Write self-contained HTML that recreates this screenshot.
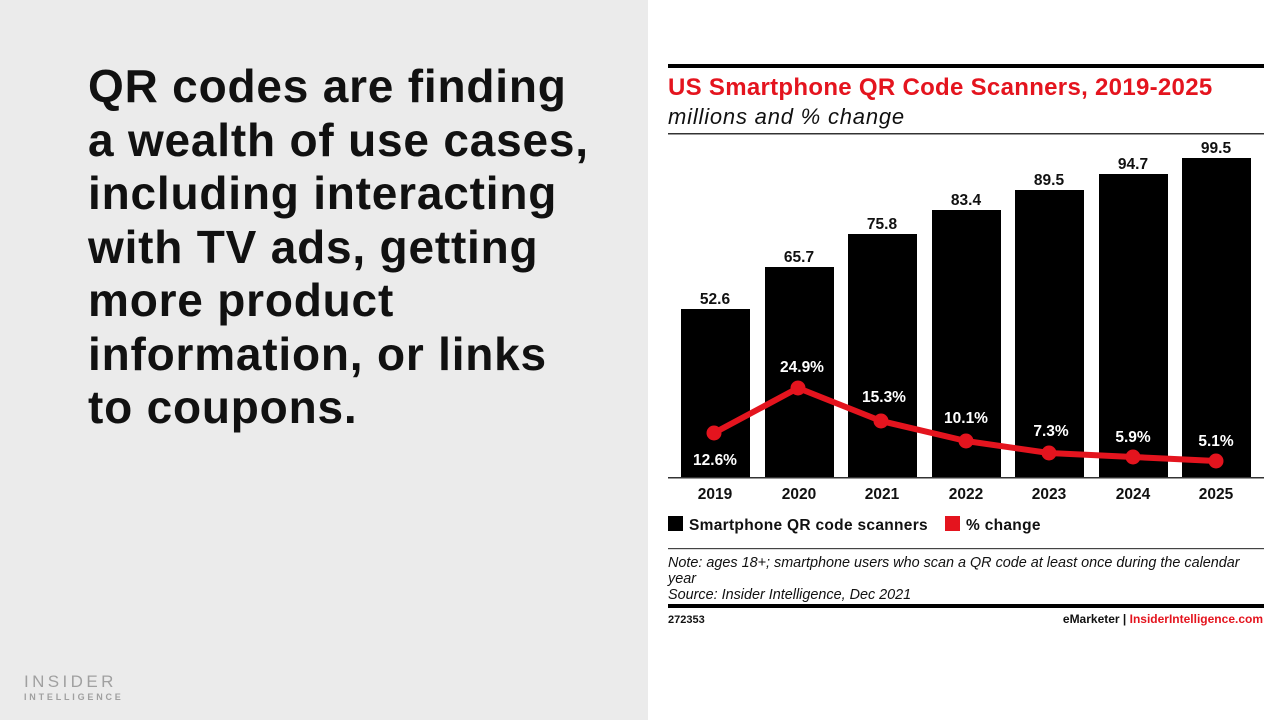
<!DOCTYPE html>
<html><head><meta charset="utf-8"><style>
body{margin:0;width:1280px;height:720px;overflow:hidden;font-family:"Liberation Sans",sans-serif;background:#fff;position:relative}
.left{position:absolute;left:0;top:0;width:648px;height:720px;background:#ebebeb}
.hl{position:absolute;left:88px;top:60px;font-size:46px;letter-spacing:0.8px;font-weight:bold;line-height:53.5px;color:#111;white-space:nowrap}
.logo{position:absolute;left:24px;top:673px;color:#a0a0a0;font-size:17px;letter-spacing:3.4px;line-height:17px}
.logo2{position:absolute;left:24px;top:693px;color:#a0a0a0;font-size:9px;letter-spacing:2.8px;font-weight:bold;line-height:9px}
</style></head><body>
<div class="left">
<div class="hl">QR codes are finding<br>a wealth of use cases,<br>including interacting<br>with TV ads, getting<br>more product<br>information, or links<br>to coupons.</div>
<div class="logo">INSIDER</div>
<div class="logo2">INTELLIGENCE</div>
</div>
<svg width="1280" height="720" style="position:absolute;left:0;top:0" font-family="Liberation Sans, sans-serif">
<rect x="668" y="64" width="596" height="4" fill="#000"/>
<text x="668" y="95" font-size="24" letter-spacing="0.3" font-weight="bold" fill="#e4141e">US Smartphone QR Code Scanners, 2019-2025</text>
<text x="668" y="124" font-size="22" letter-spacing="0.8" font-style="italic" fill="#111">millions and % change</text>
<rect x="668" y="133" width="596" height="1.5" fill="#333"/>
<g fill="#000">
<rect x="681" y="309" width="69" height="168"/>
<rect x="765" y="267" width="69" height="210"/>
<rect x="848" y="234" width="69" height="243"/>
<rect x="932" y="210" width="69" height="267"/>
<rect x="1015" y="190" width="69" height="287"/>
<rect x="1099" y="174" width="69" height="303"/>
<rect x="1182" y="158" width="69" height="319"/>
</g>
<rect x="668" y="477" width="596" height="1.5" fill="#333"/>
<g font-size="15.5" font-weight="bold" text-anchor="middle" fill="#111">
<text x="715" y="304">52.6</text><text x="799" y="262">65.7</text><text x="882" y="229">75.8</text>
<text x="966" y="205">83.4</text><text x="1049" y="185">89.5</text><text x="1133" y="169">94.7</text><text x="1216" y="153">99.5</text>
<text x="715" y="499">2019</text><text x="799" y="499">2020</text><text x="882" y="499">2021</text>
<text x="966" y="499">2022</text><text x="1049" y="499">2023</text><text x="1133" y="499">2024</text><text x="1216" y="499">2025</text>
</g>
<polyline points="714,433 798,388 881,421 966,441 1049,453 1133,457 1216,461" fill="none" stroke="#e4141e" stroke-width="6" stroke-linejoin="round"/>
<g fill="#e4141e">
<circle cx="714" cy="433" r="7.5"/><circle cx="798" cy="388" r="7.5"/><circle cx="881" cy="421" r="7.5"/>
<circle cx="966" cy="441" r="7.5"/><circle cx="1049" cy="453" r="7.5"/><circle cx="1133" cy="457" r="7.5"/><circle cx="1216" cy="461" r="7.5"/>
</g>
<g font-size="15.5" font-weight="bold" text-anchor="middle" fill="#fff">
<text x="715" y="465">12.6%</text><text x="802" y="372">24.9%</text><text x="884" y="402">15.3%</text>
<text x="966" y="423">10.1%</text><text x="1051" y="436">7.3%</text><text x="1133" y="442">5.9%</text><text x="1216" y="446">5.1%</text>
</g>
<rect x="668" y="516" width="15" height="15" fill="#000"/>
<text x="689" y="530" font-size="15.5" letter-spacing="0.3" font-weight="bold" fill="#111">Smartphone QR code scanners</text>
<rect x="945" y="516" width="15" height="15" fill="#e4141e"/>
<text x="966" y="530" font-size="15.5" letter-spacing="0.3" font-weight="bold" fill="#111">% change</text>
<rect x="668" y="548" width="596" height="1.2" fill="#444"/>
<g font-size="14.4" font-style="italic" fill="#111">
<text x="668" y="567">Note: ages 18+; smartphone users who scan a QR code at least once during the calendar</text>
<text x="668" y="583">year</text>
<text x="668" y="599">Source: Insider Intelligence, Dec 2021</text>
</g>
<rect x="668" y="604" width="596" height="4" fill="#000"/>
<text x="668" y="623" font-size="11" font-weight="bold" fill="#111">272353</text>
<text x="1263" y="623" font-size="12" font-weight="bold" text-anchor="end" fill="#111">eMarketer  |  <tspan fill="#e4141e">InsiderIntelligence.com</tspan></text>
</svg>
</body></html>
